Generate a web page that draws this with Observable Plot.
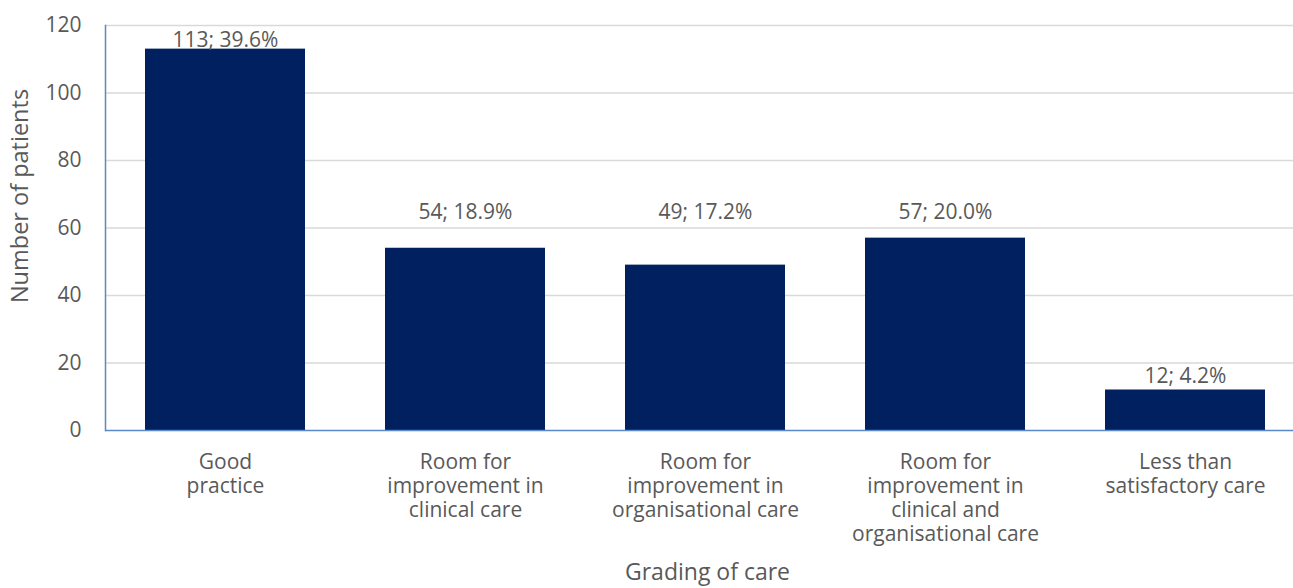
<!DOCTYPE html>
<html>
<head>
<meta charset="utf-8">
<script src="https://cdn.jsdelivr.net/npm/d3@7"></script>
<script src="https://cdn.jsdelivr.net/npm/@observablehq/plot@0.6"></script>
<style>
  html, body { margin: 0; padding: 0; background: #fff; }
  svg { font-family: "Open Sans", Lato, sans-serif; }
</style>
</head>
<body>
<div id="chart"></div>
<script>
const categories = ["Good practice", "Room for improvement in clinical care", "Room for improvement in organisational care", "Room for improvement in clinical and organisational care", "Less than satisfactory care"];
const tickLabels = ["Good\npractice", "Room for\nimprovement in\nclinical care", "Room for\nimprovement in\norganisational care", "Room for\nimprovement in\nclinical and\norganisational care", "Less than\nsatisfactory care"];
const counts = [113, 54, 49, 57, 12];
const percents = [39.6, 18.9, 17.2, 20.0, 4.2];
const labelAt = [115.6, 64.6, 64.6, 64.6, 16.0];
const yTicks = [0, 20, 40, 60, 80, 100, 120];
const xTitle = "Grading of care";
const yTitle = "Number of patients";

const data = categories.map((c, i) => ({
  cat: c,
  n: counts[i],
  label: `${counts[i]}; ${percents[i].toFixed(1)}%`,
  ly: labelAt[i]
}));

const textColor = "#595959";
const axisBlue = "#5a88c8";
const fs = 21;

const chart = Plot.plot({
  width: 1293,
  height: 588,
  marginTop: 25,
  marginBottom: 158,
  marginLeft: 105,
  marginRight: 0,
  style: { fontFamily: "'Open Sans', Lato, sans-serif", color: textColor, background: "#fff" },
  x: { domain: categories, range: [105, 1305], paddingInner: 1/3, paddingOuter: 1/6 },
  y: { domain: [0, 120], ticks: yTicks },
  marks: [
    Plot.ruleY(yTicks.filter(d => d > 0), { stroke: "#d9d9d9", strokeWidth: 1.5 }),
    Plot.barY(data, { x: "cat", y: "n", fill: "#002060" }),
    Plot.ruleY([0], { stroke: axisBlue, strokeWidth: 1.5 }),
    Plot.frame({ anchor: "left", stroke: axisBlue, strokeWidth: 1.5 }),
    Plot.text(data, { x: "cat", y: "ly", text: "label", fontSize: fs, fill: textColor }),
    Plot.axisY({
      ticks: yTicks, tickSize: 0, tickPadding: 24, fontSize: fs, color: textColor, label: null
    }),
    Plot.axisX({
      tickSize: 0, tickPadding: 21, fontSize: fs, color: textColor, lineHeight: 24 / fs,
      tickFormat: d => tickLabels[categories.indexOf(d)], label: null
    }),
    Plot.text([xTitle], { frameAnchor: "bottom", dx: 8, dy: 142, text: d => d, fontSize: 23, fill: textColor, lineAnchor: "middle", textAnchor: "middle" }),
    Plot.text([yTitle], { frameAnchor: "left", dx: -85, dy: -32, rotate: -90, text: d => d, fontSize: 23.5, fill: textColor, lineAnchor: "middle", textAnchor: "middle" })
  ]
});
document.getElementById("chart").appendChild(chart);
</script>
</body>
</html>
